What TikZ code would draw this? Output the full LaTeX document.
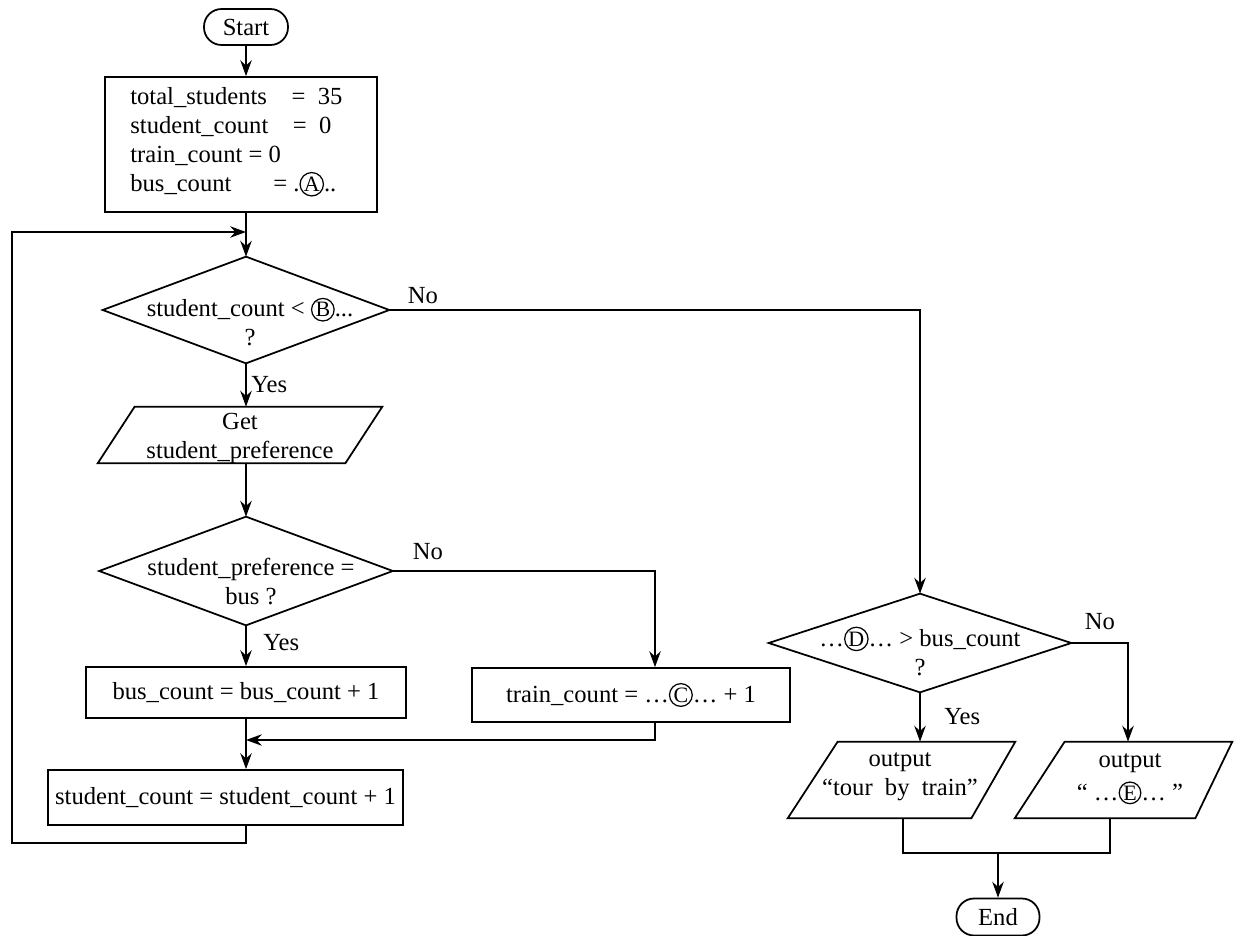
\documentclass[tikz,border=0pt]{standalone}
\usepackage{fontspec}
\setmainfont{Liberation Serif}
\usetikzlibrary{arrows.meta,calc}
\newcommand{\fs}{\fontsize{14}{16.5}\selectfont}
\newcommand{\cl}[1]{\tikz[baseline=(cl.base)]\node[circle,draw,line width=0.7pt,inner sep=0.4pt,minimum width=0pt,minimum height=0pt,align=center,font=\fontsize{12.5}{12.5}\selectfont] (cl) {#1};}
\tikzset{
  box/.style={draw, line width=1pt, rectangle, inner sep=0pt, align=center, font=\fs},
  ghost/.style={rectangle, inner sep=0pt, draw=none},
  txt/.style={align=center, inner sep=0pt, font=\fs},
  lbl/.style={inner sep=0pt, font=\fs},
  flow/.style={draw, line width=1pt},
  arr/.style={flow, -{Stealth[length=9pt,width=6.5pt]}},
  term/.style={draw, line width=1pt, rounded corners=10pt, inner sep=0pt, font=\fs},
}
\begin{document}
\begin{tikzpicture}[x=0.02cm, y=-0.02cm]
\useasboundingbox[fill=white] (0,0) rectangle (1234,936);

% start
\node[term, minimum width=1.68cm, minimum height=0.72cm] (start) at (246,27) {Start};
% init box
\node[box, minimum width=5.44cm, minimum height=2.7cm] (init) at (241,144.5) {};
\node[txt, align=left, anchor=west] (initt) at (130,142)
 {total\_students\hspace{1em}=\ \ 35\\
  student\_count\hspace{1em}=\ \ 0\\
  train\_count = 0\\
  bus\_count\hspace{1.7em}= .\cl{A}..};
\draw[arr] (start.south) -- (start.south |- init.north);

% decision 1
\node[ghost, minimum width=5.72cm, minimum height=2.12cm] (d1) at (246,310) {};
\draw[flow] (d1.north) -- (d1.east) -- (d1.south) -- (d1.west) -- cycle;
\node[txt] (t1) at (250,322) {student\_count < \cl{B}...\\?};
\draw[arr] (init.south -| d1.north) -- (d1.north);

% input parallelogram
\node[ghost, minimum width=5.68cm, minimum height=1.12cm] (p1) at (240,435) {};
\draw[flow] ($(p1.north west)+(37,0)$) -- (p1.north east) -- ($(p1.south east)-(37,0)$) -- (p1.south west) -- cycle;
\node[txt] (t2) at (240,438) {Get\\student\_preference};
\draw[arr] (d1.south) -- (d1.south |- p1.north);
\node[lbl, anchor=west] (yes1) at (251,385) {Yes};

% decision 2
\node[ghost, minimum width=5.86cm, minimum height=2.16cm] (d2) at (246,571) {};
\draw[flow] (d2.north) -- (d2.east) -- (d2.south) -- (d2.west) -- cycle;
\node[txt] (t3) at (251,582) {student\_preference =\\bus ?};
\draw[arr] (d1.south |- p1.south) -- (d2.north);
\node[lbl] (no2) at (428,552) {No};
\node[lbl, anchor=west] (yes2) at (263,643) {Yes};

% bus / train boxes
\node[box, minimum width=6.4cm, minimum height=1.02cm] (bus) at (246,692.5) {bus\_count = bus\_count + 1};
\node[box, minimum width=6.36cm, minimum height=1.08cm] (train) at (631,695) {train\_count = …\cl{C}… + 1};
\coordinate (tx) at (655,0);
\draw[arr] (d2.south) -- (bus.north);
\draw[arr] (d2.east) -| (tx |- train.north);

% student_count box
\node[box, minimum width=7.1cm, minimum height=1.1cm] (sc) at (225.5,797.5) {student\_count = student\_count + 1};
\coordinate (m1) at (246,740);
\draw[arr] (tx |- train.south) |- (m1);
\draw[arr] (bus.south) -- (bus.south |- sc.north);

% loop back
\coordinate (l1) at (246,843);
\coordinate (l2) at (12,843);
\coordinate (l3) at (12,232);
\coordinate (l4) at (246,232);
\draw[arr] (sc.south -| l1) -- (l1) -- (l2) -- (l3) -- (l4);

% decision 3
\node[ghost, minimum width=6.04cm, minimum height=1.96cm] (d3) at (920,643) {};
\draw[flow] (d3.north) -- (d3.east) -- (d3.south) -- (d3.west) -- cycle;
\node[txt] (t4) at (920,651) {…\cl{D}… > bus\_count\\?};
\draw[arr] (d1.east) -| (d3.north);
\node[lbl] (no1) at (423,296) {No};
\node[lbl] (no3) at (1100,622) {No};
\node[lbl, anchor=west] (yes3) at (944,717) {Yes};

% output parallelograms
\node[ghost, minimum width=4.54cm, minimum height=1.52cm] (p2) at (901.5,780) {};
\draw[flow] ($(p2.north west)+(50,0)$) -- (p2.north east) -- ($(p2.south east)-(44,0)$) -- (p2.south west) -- cycle;
\node[txt] (t5) at (900,777) {output\\“tour\ \ by\ \ train”};
\draw[arr] (d3.south) -- (d3.south |- p2.north);

\node[ghost, minimum width=4.34cm, minimum height=1.52cm] (p3) at (1123.5,780) {};
\draw[flow] ($(p3.north west)+(50,0)$) -- (p3.north east) -- ($(p3.south east)-(37,0)$) -- (p3.south west) -- cycle;
\node[txt] (t6) at (1130,779) {output\\[2pt]“\ …\cl{E}…\ ”};
\coordinate (rx) at (1128,0);
\draw[arr] (d3.east) -| (rx |- p3.north);

% end
\node[term, minimum width=1.66cm, minimum height=0.74cm] (end) at (998,917) {End};
\coordinate (j1) at (903,853);
\coordinate (j2) at (1110,853);
\draw[flow] (p2.south -| j1) -- (j1) -- (j2) -- (j2 |- p3.south);
\draw[arr] (end.north |- j1) -- (end.north);
\end{tikzpicture}
\end{document}
